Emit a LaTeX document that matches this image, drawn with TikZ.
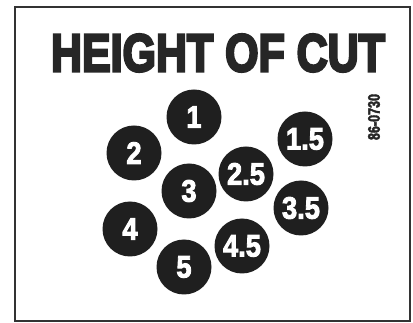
\documentclass[tikz,border=0pt]{standalone}
\usepackage{fontspec}
\setmainfont{Liberation Sans}
\newfontfamily\heavyfont{Liberation Sans}[UprightFont={* Bold},UprightFeatures={FakeBold=5}]
\newfontfamily\digfont{Liberation Sans}[UprightFont={* Bold},UprightFeatures={FakeBold=3}]
\begin{document}
\begin{tikzpicture}[x=1pt,y=-1pt,
  dot/.style={circle,fill=black!88,draw=none,minimum size=55pt,inner sep=0pt,text=white,
    font=\fontsize{31}{31}\digfont},
  frame/.style={draw=black!80,line width=1.4pt}]
\useasboundingbox (0,0) rectangle (413,323);
\fill[white] (0,0) rectangle (413,323);
\draw[frame] (15,7) rectangle (410,321);
\node[font=\fontsize{53}{53}\heavyfont,inner sep=0pt,text=black!85] (title) at (218,53)
  {\scalebox{0.81}[1]{HEIGHT OF CUT}};
\node[rotate=90,font=\fontsize{16.5}{16.5}\digfont,inner sep=0pt,text=black!85] (code) at (374,117)
  {\scalebox{0.76}[1]{86-0730}};
\newcommand{\dig}[1]{\scalebox{0.88}[1]{#1}}
\node[dot] (d1)  at (194,117) {\dig{1}};
\node[dot] (d2)  at (134,153) {\dig{2}};
\node[dot] (d15) at (305,139) {\dig{1.5}};
\node[dot] (d25) at (246,174) {\dig{2.5}};
\node[dot] (d3)  at (189,191) {\dig{3}};
\node[dot] (d35) at (301,208) {\dig{3.5}};
\node[dot] (d4)  at (130,229) {\dig{4}};
\node[dot] (d45) at (242,246) {\dig{4.5}};
\node[dot] (d5)  at (184,267) {\dig{5}};
\end{tikzpicture}
\end{document}
